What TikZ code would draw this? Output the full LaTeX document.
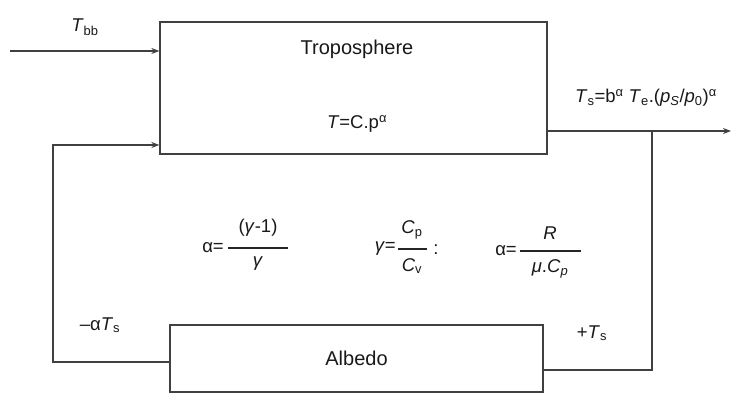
\documentclass[tikz,border=0pt]{standalone}
\usepackage{fontspec}
\setmainfont{Liberation Sans}
\usetikzlibrary{arrows.meta}
\begin{document}
\begin{tikzpicture}[x=1pt,y=-1pt,
  wire/.style={draw=black!75, line width=1.3pt},
  arr/.style={wire,-{Stealth[length=8pt,width=6pt]}},
  box/.style={draw=black!75, line width=1.3pt, rectangle, inner sep=0pt},
  lbl/.style={font=\fontsize{18.5}{20}\selectfont, text=black!90, inner sep=0pt},
  big/.style={font=\fontsize{20}{22}\selectfont, text=black!90, inner sep=0pt},
  bar/.style={draw=black!85, line width=2pt}]
\useasboundingbox[fill=white] (0,0) rectangle (732,398);
% boxes
\node[box, minimum width=387pt, minimum height=132pt] (tropo) at (353.5,88) {};
\node[box, big, minimum width=373pt, minimum height=67pt] (albedo) at (356.5,358.5) {Albedo};
\node[big] (tname) at (357,49) {Troposphere};
\node[lbl] (tlaw) at (357,124) {\textit{T}=C.p\textsuperscript{α}};
% input
\coordinate (in) at (10,51);
\draw[arr] (in) -- (tropo.west |- in);
\node[lbl] (tbb) at (85,27) {\textit{T}\textsubscript{bb}};
% feedback
\coordinate (fb) at (53,145);
\draw[arr] ([yshift=-3.5pt]albedo.west) -| (fb) -- (tropo.west |- fb);
\node[lbl] (neg) at (100,325) {–α\textit{T}\textsubscript{s}};
% output
\coordinate (out) at (731,131);
\coordinate (j) at (652,131);
\draw[arr] (tropo.east |- out) -- (out);
\draw[wire] (j) |- ([yshift=-11.5pt]albedo.east);
\node[lbl] (ts) at (646,98) {\textit{T}\textsubscript{s}=b\textsuperscript{α} \textit{T}\textsubscript{e}.(\textit{p}\textsubscript{\textit{S}}/\textit{p}\textsubscript{0})\textsuperscript{α}};
\node[lbl] (pos) at (592,333) {+\textit{T}\textsubscript{s}};
% fraction 1
\node[lbl, anchor=east] (a1) at (224,248) {α=};
\node[lbl] (n1) at (258,228) {(\textit{γ}-1)};
\draw[bar] (228,248) -- (288,248);
\node[lbl] (d1) at (258,264) {\textit{γ}};
% fraction 2
\node[lbl, anchor=east] (g2) at (396,249) {\textit{γ}=};
\node[lbl] (n2) at (412,230) {\textit{C}\textsubscript{p}};
\draw[bar] (398,249) -- (427,249);
\node[lbl] (d2) at (412,266) {\textit{C}\textsubscript{v}};
\node[lbl] (colon) at (436,250) {:};
% fraction 3
\node[lbl, anchor=east] (a3) at (517,251) {α=};
\node[lbl] (n3) at (550,233) {\textit{R}};
\draw[bar] (520,251) -- (581,251);
\node[lbl] (d3) at (550,269) {\textit{μ}.\textit{C}\textsubscript{\textit{p}}};
\end{tikzpicture}
\end{document}
